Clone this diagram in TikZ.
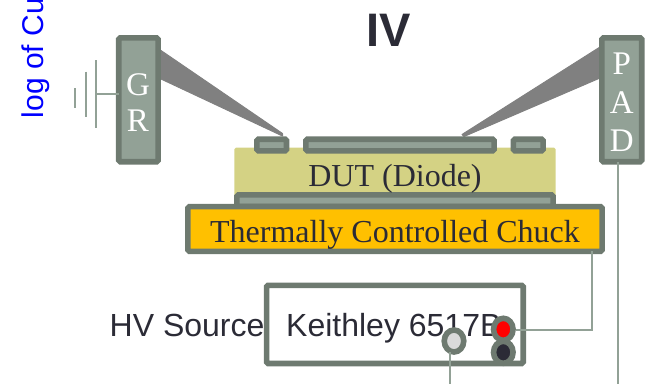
\documentclass[tikz,border=0pt]{standalone}
\usepackage{fontspec}
\setmainfont{Liberation Serif}
\setsansfont{Liberation Sans}
\usetikzlibrary{shapes.geometric}
\definecolor{edgegreen}{HTML}{6E7A70}
\definecolor{padgreen}{HTML}{92A196}
\definecolor{dutyellow}{HTML}{D4D284}
\definecolor{chuckyellow}{HTML}{FFC000}
\definecolor{inkdark}{HTML}{2B2B36}
\definecolor{probegray}{HTML}{808080}
\definecolor{termgray}{HTML}{DADADA}
\tikzset{
  plate/.style={draw=edgegreen,line width=5.6pt,fill=padgreen,rounded corners=1.5pt,inner sep=0pt,outer sep=0pt},
  wire/.style={draw=padgreen,line width=2pt},
  probe/.style={fill=probegray,draw=probegray,line width=1pt,line join=round},
  serifbig/.style={font=\fontsize{32}{36}\selectfont,text=inkdark,inner sep=0pt},
  sansbig/.style={font=\sffamily\fontsize{32}{36}\selectfont,text=inkdark,inner sep=0pt},
  padletter/.style={font=\fontsize{33}{36}\selectfont,text=white,inner sep=0pt},
  terminal/.style={ellipse,draw=edgegreen,line width=5.6pt,minimum width=19.5pt,minimum height=22pt,inner sep=0pt,outer sep=0pt},
}
\begin{document}
\begin{tikzpicture}[x=1pt,y=-1pt]
\useasboundingbox (0,0) rectangle (646,384);
\clip (0,0) rectangle (646,384);
% title and axis
\node[font=\sffamily\bfseries\fontsize{47}{50}\selectfont,text=inkdark,inner sep=0pt,anchor=base] (title) at (388.5,46) {IV};
\node[font=\sffamily\fontsize{30}{36}\selectfont,text=blue,inner sep=0pt,anchor=base west,rotate=90] (axis) at (43.5,118.5) {log of Cu};
% wires
\coordinate (chuckdrop) at (592,254);
\coordinate (padwireend) at (617.7,384);
\coordinate (grayend) at (450,384);
\coordinate (gnd1) at (96,94);
% ground
\draw[wire] (96,60.3) -- (96,127.7);
\draw[wire] (86,71.7) -- (86,116.7);
\draw[wire] (74.7,88) -- (74.7,107.7);
% probes
\coordinate (ltip1) at (282.5,133.5);
\coordinate (ltip2) at (282.5,136);
\coordinate (rtip1) at (462,134.5);
\coordinate (rtip2) at (464,136.5);
\fill[probe] (161,50.5) -- (ltip1) -- (ltip2) -- (161,79) -- cycle;
\fill[probe] (600,47) -- (rtip1) -- (rtip2) -- (600,78) -- cycle;
% DUT stack
\node[fill=dutyellow,rounded corners=1.5pt,minimum width=321.4pt,minimum height=50pt,inner sep=0pt,outer sep=0pt] (dut) at (395,172.7) {};
\node[plate,minimum width=316.2pt,minimum height=11.6pt] (back) at (395,200.7) {};
\node[plate,fill=chuckyellow,minimum width=414.2pt,minimum height=44.8pt] (chuck) at (395,229) {};
\node[plate,minimum width=29.6pt,minimum height=11.6pt] (grpad) at (271.7,145) {};
\node[plate,minimum width=188.2pt,minimum height=11.6pt] (centerpad) at (400,145) {};
\node[plate,minimum width=29.8pt,minimum height=11.6pt] (rightpad) at (528.2,145) {};
\node[serifbig,anchor=base] (duttext) at (395,186) {DUT (Diode)};
\node[serifbig,anchor=base] (chucktext) at (395,242) {Thermally Controlled Chuck};
% probe blocks
\node[plate,minimum width=39.4pt,minimum height=123.8pt] (gr) at (138.4,99.8) {};
\node[plate,minimum width=39.8pt,minimum height=123.8pt] (pad) at (621.8,99.8) {};
\node[padletter,anchor=base] (lg) at (138,95) {G};
\node[padletter,anchor=base] (lr) at (138,131) {R};
\node[padletter,anchor=base] (lp) at (621.8,74) {P};
\node[padletter,anchor=base] (la) at (621.8,113) {A};
\node[padletter,anchor=base] (ld) at (621.8,151) {D};
\draw[wire] (gnd1) -- (gnd1 -| gr.west);
% source
\node[draw=edgegreen,line width=5.6pt,fill=white,rounded corners=1.5pt,minimum width=256.6pt,minimum height=78.2pt,inner sep=0pt,outer sep=0pt] (source) at (394.9,324.4) {};
\node[sansbig,anchor=base west] (hv) at (109.5,336) {HV Source};
\node[sansbig,anchor=base west] (keith) at (286,336) {Keithley 6517B};
\draw[wire] (chuckdrop |- chuck.south) |- (516,329.5);
\draw[wire] (pad.south -| padwireend) -- (padwireend);
\node[terminal,fill=inkdark] (blackt) at (503.3,352.3) {};
\node[terminal,fill=red] (redt) at (503.3,329.3) {};
\node[terminal,fill=termgray] (grayt) at (454,341) {};
\draw[wire] (grayt.south -| grayend) -- (grayend);
\end{tikzpicture}
\end{document}
